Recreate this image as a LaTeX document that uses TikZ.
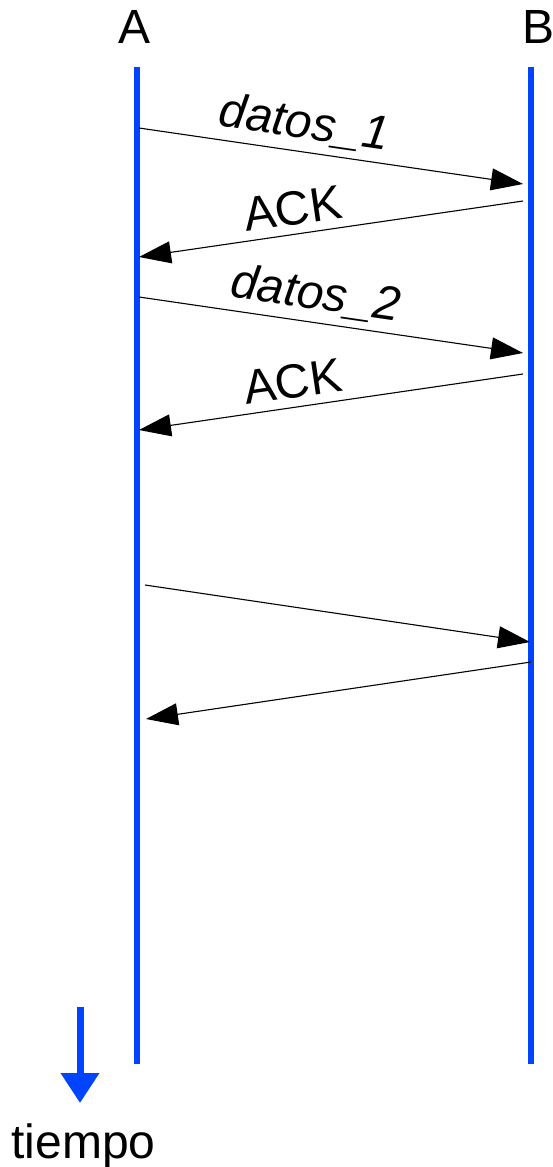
\documentclass[tikz,border=0pt]{standalone}
\usepackage{fontspec}
\setmainfont{Liberation Sans}
\usetikzlibrary{arrows.meta}
\definecolor{lifeblue}{RGB}{0,68,255}
\begin{document}
\begin{tikzpicture}[x=1pt,y=-1pt,
  lifeline/.style={draw=lifeblue,line width=6.5pt},
  msg/.style={draw=black,line width=1.1pt,-{Triangle[length=32pt,width=22pt]}},
  msglabel/.style={sloped,inner sep=0pt,text depth=0pt,font=\fontsize{48}{57}\selectfont},
  bigtext/.style={inner sep=0pt,anchor=base,font=\fontsize{48}{57}\selectfont}]
\useasboundingbox (0,0) rectangle (552,1167);
% lifelines
\coordinate (Atop) at (137,67);
\coordinate (Abot) at (137,1064);
\coordinate (Btop) at (531,67);
\coordinate (Bbot) at (531,1064);
\draw[lifeline] (Atop) -- (Abot);
\draw[lifeline] (Btop) -- (Bbot);
\node[bigtext] (labA) at (135,43) {A};
\node[bigtext] (labB) at (539,43) {B};
% message end points
\coordinate (a1) at (139,128);  \coordinate (b1) at (523,184);
\coordinate (b2) at (523,201);  \coordinate (a2) at (139,257);
\coordinate (a3) at (139,297);  \coordinate (b3) at (523,353);
\coordinate (b4) at (523,374);  \coordinate (a4) at (139,430);
\coordinate (a5) at (145,585);  \coordinate (b5) at (530,642);
\coordinate (b6) at (531,662);  \coordinate (a6) at (146,719);
% messages
\draw[msg] (a1) -- node[msglabel,pos=.42,above=13pt] (m1) {\itshape datos\_1} (b1);
\draw[msg] (b2) -- node[msglabel,pos=.59,above=9pt] (m2) {ACK} (a2);
\draw[msg] (a3) -- node[msglabel,pos=.45,above=13pt] (m3) {\itshape datos\_2} (b3);
\draw[msg] (b4) -- node[msglabel,pos=.59,above=9pt] (m4) {ACK} (a4);
\draw[msg] (a5) -- (b5);
\draw[msg] (b6) -- (a6);
% time arrow
\coordinate (t0) at (80,1007);
\coordinate (t1) at (80,1103);
\draw[draw=lifeblue,line width=7pt,-{Triangle[length=30pt,width=37pt,fill=lifeblue]}] (t0) -- (t1);
\node[bigtext] (tiempo) at (83.5,1158) {tiempo};
\end{tikzpicture}
\end{document}
